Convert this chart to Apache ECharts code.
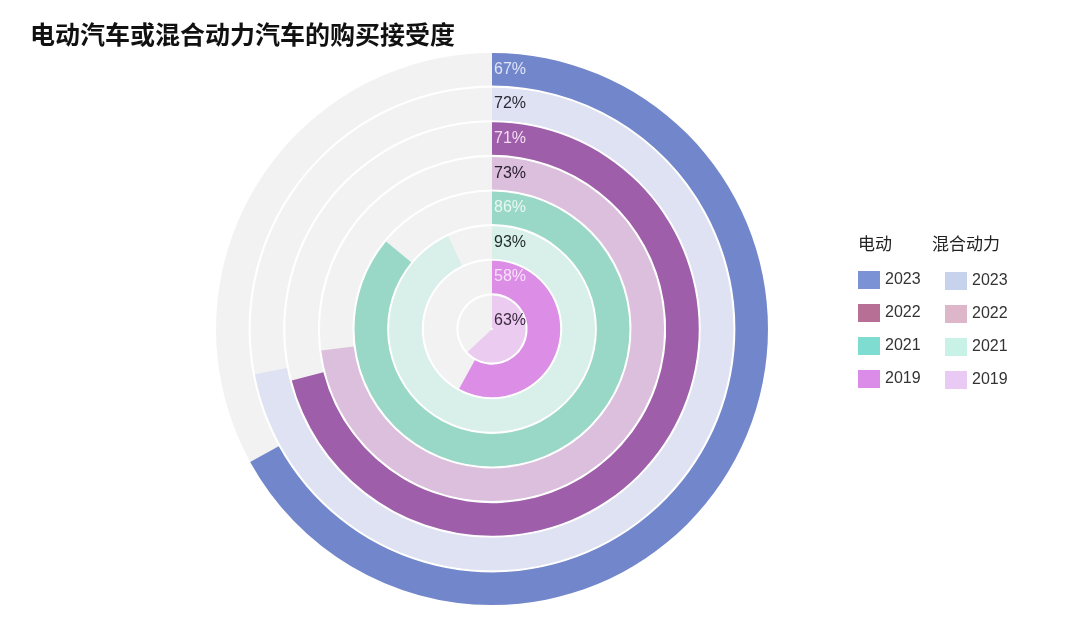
<!DOCTYPE html>
<html>
<head>
<meta charset="utf-8">
<script src="https://cdn.jsdelivr.net/npm/echarts@6/dist/echarts.min.js"></script>
<style>html,body{margin:0;padding:0;background:#fff}#c{width:1068px;height:627px}</style>
</head>
<body>
<div id="c"></div>
<script>
// Data
const years = ['2023', '2022', '2021', '2019'];
const evValues = [67, 71, 86, 58];       // 电动
const hybridValues = [72, 73, 93, 63];   // 混合动力
const evColors = ['#7286cb', '#9e5ea9', '#99d8c6', '#dc8ee6'];
const hybridColors = ['#dfe2f2', '#dbbfdc', '#d9f0ea', '#eccbf0'];
const evLegendColors = ['#7b93d4', '#b86f96', '#7fdcd0', '#db8be8'];
const hybridLegendColors = ['#c7d2ec', '#ddb6ca', '#c8f2e6', '#e9caf4'];
const evLabelColors = ['#dfe4f7', '#f3dcf2', '#eaf8f3', '#f7e2fa'];
const hybridLabelColors = ['#2a2a35', '#2a2030', '#1f2a28', '#3a2a40'];

// rings inner -> outer
const rings = [];
for (let i = years.length - 1; i >= 0; i--) {
  rings.push({ name: '混合动力 ' + years[i], value: hybridValues[i], color: hybridColors[i], labelColor: hybridLabelColors[i] });
  rings.push({ name: '电动 ' + years[i], value: evValues[i], color: evColors[i], labelColor: evLabelColors[i] });
}
const categories = rings.map(r => r.name);

const series = [{
  type: 'bar', coordinateSystem: 'polar', name: 'bg',
  data: categories.map(() => 100),
  barGap: '-100%', barCategoryGap: '6%',
  itemStyle: { color: '#f2f2f2' }, silent: true, z: 1
}];
rings.forEach((r, idx) => {
  series.push({
    type: 'bar', coordinateSystem: 'polar', name: r.name,
    data: categories.map((c, j) => j === idx ? r.value : '-'),
    barGap: '-100%', barCategoryGap: '6%',
    itemStyle: { color: r.color }, z: 2,
    label: {
      show: true, position: 'insideStart', rotate: 0, distance: 2,
      offset: idx === 0 ? [0, 9] : [0, 0],
      formatter: '{c}%', color: r.labelColor, fontSize: 16,
      fontFamily: 'Liberation Sans, Arial, sans-serif'
    }
  });
});

const chart = echarts.init(document.getElementById('c'));
chart.setOption({
  animation: false,
  color: rings.map(r => r.color),
  title: {
    text: '电动汽车或混合动力汽车的购买接受度', left: 25, top: 17,
    textStyle: { fontSize: 25, fontWeight: 'bold', color: '#111', fontFamily: 'Noto Sans CJK SC' }
  },
  polar: { center: [492, 329], radius: [0, 277] },
  angleAxis: { type: 'value', min: 0, max: 100, startAngle: 90, clockwise: true, show: false },
  radiusAxis: { type: 'category', data: categories, show: false },
  legend: [{
    orient: 'vertical', left: 853, top: 266, itemWidth: 22, itemHeight: 18, itemGap: 15,
    icon: 'rect',
    data: years.map((y, i) => ({ name: '电动 ' + y, itemStyle: { color: evLegendColors[i] } })),
    formatter: n => n.split(' ')[1],
    textStyle: { fontSize: 16, color: '#333', fontFamily: 'Liberation Sans, Arial, sans-serif' }
  }, {
    orient: 'vertical', left: 940, top: 267, itemWidth: 22, itemHeight: 18, itemGap: 15,
    icon: 'rect',
    data: years.map((y, i) => ({ name: '混合动力 ' + y, itemStyle: { color: hybridLegendColors[i] } })),
    formatter: n => n.split(' ')[1],
    textStyle: { fontSize: 16, color: '#333', fontFamily: 'Liberation Sans, Arial, sans-serif' }
  }],
  graphic: [
    { type: 'text', left: 858, top: 235, style: { text: '电动', fontSize: 17, fill: '#222', fontFamily: 'Noto Sans CJK SC' } },
    { type: 'text', left: 932, top: 235, style: { text: '混合动力', fontSize: 17, fill: '#222', fontFamily: 'Noto Sans CJK SC' } }
  ],
  series: series
});
</script>
</body>
</html>
